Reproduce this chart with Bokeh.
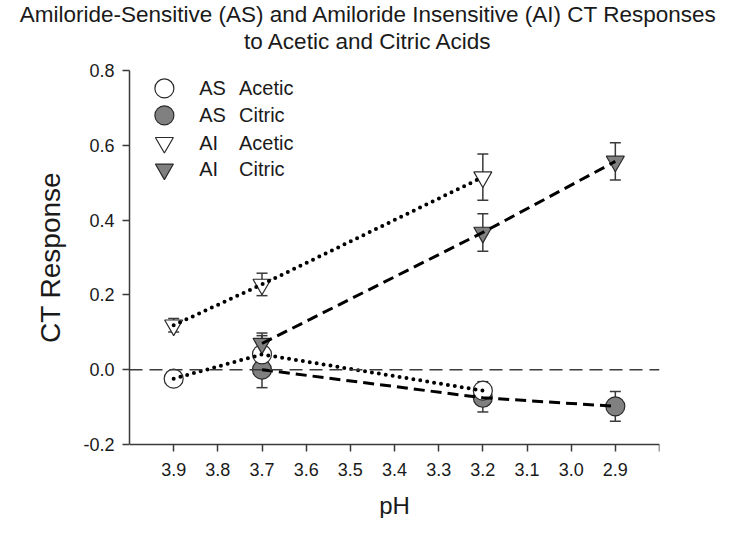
import numpy as np
from bokeh.plotting import figure
from bokeh.models import (ColumnDataSource, Range1d, FixedTicker, PrintfTickFormatter,
                          Whisker, TeeHead, Span, Title)
from bokeh.core.properties import value
from bokeh.embed import file_html
from bokeh.resources import INLINE

# ---------------- data ----------------
as_acetic_ph = [3.9, 3.7, 3.2]
as_acetic_val = [-0.024, 0.041, -0.056]
as_acetic_err = [0.008, 0.05, 0.024]

as_citric_ph = [3.7, 3.2, 2.9]
as_citric_val = [0.0, -0.075, -0.098]
as_citric_err = [0.048, 0.038, 0.04]

ai_acetic_ph = [3.9, 3.7, 3.2]
ai_acetic_val = [0.119, 0.228, 0.515]
ai_acetic_err = [0.018, 0.03, 0.062]

ai_citric_ph = [3.7, 3.2, 2.9]
ai_citric_val = [0.07, 0.367, 0.557]
ai_citric_err = [0.028, 0.05, 0.05]

x_ticks = [3.9, 3.8, 3.7, 3.6, 3.5, 3.4, 3.3, 3.2, 3.1, 3.0, 2.9, 2.8]
y_ticks = [-0.2, 0.0, 0.2, 0.4, 0.6, 0.8]
Y_MIN, Y_MAX = -0.2, 0.8

legend_prefix = ["AS", "AS", "AI", "AI"]
legend_acid = ["Acetic", "Citric", "Acetic", "Citric"]

title_lines = ["Amiloride-Sensitive (AS) and Amiloride Insensitive (AI) CT Responses",
               "to Acetic and Citric Acids"]
x_label = "pH"
y_label = "CT Response"

FONT = "Liberation Sans"
TXT = "#1a1a1a"
AX = "#3a3a3a"
GRAY = "#808080"
EDGE = "#2a2a2a"

W, H = 721, 518
TOP, LEFT, RIGHT = 70, 129, 62
PX_PER_UNIT = 374.0
y_lo = Y_MAX - (H - TOP) / PX_PER_UNIT   # frame reaches the canvas bottom

TITLE_PX = 22.5
title_em = [31.008, 11.059]   # Liberation Sans widths (em) of the two lines
TITLE_CENTER = 368
LINE_H = 1.117                # ascent + descent (em)

p = figure(width=W, height=H, output_backend="svg", toolbar_location=None,
           x_range=Range1d(4.0, 2.8), y_range=Range1d(y_lo, Y_MAX),
           min_border_left=LEFT, min_border_right=RIGHT, min_border_top=TOP,
           min_border_bottom=0)
p.title.visible = False
p.grid.visible = False
p.outline_line_color = None
p.background_fill_color = "white"

# spacer nearest the frame so the title lines sit at the top of the canvas
spacer_px = 10
spacer_size = TOP - 2 * (2 + LINE_H * TITLE_PX)
p.add_layout(Title(text=" ", text_font=FONT, text_font_size=f"{spacer_px}px",
                   standoff=spacer_size - 2 - LINE_H * spacer_px - 1), "above")
for line, em in [(title_lines[1], title_em[1]), (title_lines[0], title_em[0])]:
    w = em * TITLE_PX
    p.add_layout(Title(text=line, align="left", vertical_align="top",
                       offset=TITLE_CENTER - w / 2 - LEFT,
                       text_font=FONT, text_font_size=f"{TITLE_PX}px",
                       text_font_style="normal", text_color=TXT, standoff=0),
                 "above")

# y-axis title, centred on the -0.2..0.8 span rather than the whole frame
YL_PX = 28
yl_width = 6.113 * YL_PX
yl_center_canvas = TOP + (Y_MAX - (Y_MIN + Y_MAX) / 2) * PX_PER_UNIT
p.add_layout(Title(text=y_label, align="left", vertical_align="middle",
                   offset=(H - yl_center_canvas) - yl_width / 2,
                   text_font=FONT, text_font_size=f"{YL_PX}px",
                   text_font_style="normal", text_color=TXT, standoff=28), "left")

# axes
for ax in (p.xaxis[0], p.yaxis[0]):
    ax.axis_line_color = AX
    ax.axis_line_width = 1.5
    ax.major_tick_line_color = AX
    ax.major_tick_line_width = 1.5
    ax.major_tick_out = 7
    ax.major_tick_in = 0
    ax.minor_tick_line_color = None
    ax.major_label_text_font = FONT
    ax.major_label_text_font_size = "18px"
    ax.major_label_text_color = TXT

p.xaxis.ticker = FixedTicker(ticks=x_ticks)
p.xaxis.formatter = PrintfTickFormatter(format="%.1f")
p.xaxis.major_label_overrides = {2.8: ""}
p.xaxis.major_label_standoff = 11
p.xaxis.fixed_location = Y_MIN

p.yaxis.ticker = FixedTicker(ticks=y_ticks)
p.yaxis.formatter = PrintfTickFormatter(format="%.1f")
p.yaxis.bounds = (Y_MIN, Y_MAX)
p.yaxis.major_label_standoff = 8

# zero reference line
p.add_layout(Span(location=0.0, dimension="width", line_color=AX,
                  line_width=1.5, line_dash="13 7"))

series = [
    (as_citric_ph, as_citric_val, as_citric_err, "circle", GRAY, 19, "dashed"),
    (as_acetic_ph, as_acetic_val, as_acetic_err, "circle", "white", 19, "dotted"),
    (ai_citric_ph, ai_citric_val, ai_citric_err, "inverted_triangle", GRAY, 18, "dashed"),
    (ai_acetic_ph, ai_acetic_val, ai_acetic_err, "inverted_triangle", "white", 18, "dotted"),
]

for ph, val, err, marker, fill, size, style in series:
    v = np.array(val)
    e = np.array(err)
    src = ColumnDataSource(dict(x=ph, y=val, upper=v + e, lower=v - e))
    w = Whisker(base="x", upper="upper", lower="lower", source=src,
                line_color=AX, line_width=1.5, level="underlay",
                upper_head=TeeHead(size=11, line_color=AX, line_width=1.5),
                lower_head=TeeHead(size=11, line_color=AX, line_width=1.5))
    p.add_layout(w)

for ph, val, err, marker, fill, size, style in series:
    p.scatter(ph, val, marker=marker, size=size, fill_color=fill,
              line_color=EDGE, line_width=1.2)

for ph, val, err, marker, fill, size, style in series:
    if style == "dotted":
        p.line(ph, val, line_color="black", line_width=4, line_dash="0 7",
               line_cap="round")
    else:
        p.line(ph, val, line_color="black", line_width=3, line_dash="11 6")

# legend (drawn manually to match marker size)
leg_x = [3.921] * 4
leg_y = [0.752, 0.680, 0.607, 0.536]
leg_markers = ["circle", "circle", "inverted_triangle", "inverted_triangle"]
leg_fill = ["white", GRAY, "white", GRAY]
leg_size = [19, 19, 18, 18]
for i in range(4):
    p.scatter([leg_x[i]], [leg_y[i]], marker=leg_markers[i], size=leg_size[i],
              fill_color=leg_fill[i], line_color=EDGE, line_width=1.2)
p.text(x=[3.842] * 4, y=leg_y, text=legend_prefix, text_font=value(FONT),
       text_font_size="20px", text_color=TXT, text_baseline="middle")
p.text(x=[3.752] * 4, y=leg_y, text=legend_acid, text_font=value(FONT),
       text_font_size="20px", text_color=TXT, text_baseline="middle")

# x-axis title, placed under the tick labels inside the (extended) frame
p.text(x=[3.4], y=[-0.362], text=[x_label], text_font=value(FONT),
       text_font_size="24px", text_color=TXT, text_align="center",
       text_baseline="middle")

open("out.html", "w").write(file_html(p, INLINE))
